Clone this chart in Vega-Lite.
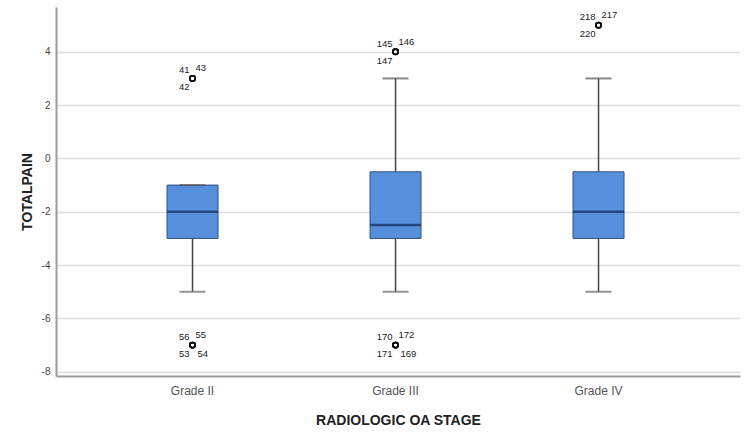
{
  "$schema": "https://vega.github.io/schema/vega-lite/v6.json",
  "width": 684,
  "height": 369,
  "autosize": {"type": "none"},
  "padding": {"left": 56, "top": 7, "right": 10, "bottom": 69},
  "background": "white",
  "config": {
    "view": {"stroke": null},
    "font": "Liberation Sans",
    "axis": {"labelFont": "Liberation Sans", "titleFont": "Liberation Sans"}
  },
  "datasets": {
    "boxes": [
      {"grade": "Grade II", "lower": -5, "q1": -3, "median": -2, "q3": -1, "upper": -1},
      {"grade": "Grade III", "lower": -5, "q1": -3, "median": -2.5, "q3": -0.5, "upper": 3},
      {"grade": "Grade IV", "lower": -5, "q1": -3, "median": -2, "q3": -0.5, "upper": 3}
    ],
    "outliers": [
      {"grade": "Grade II", "value": 3, "case": "41", "slot": "UL"},
      {"grade": "Grade II", "value": 3, "case": "43", "slot": "UR"},
      {"grade": "Grade II", "value": 3, "case": "42", "slot": "LL"},
      {"grade": "Grade II", "value": -7, "case": "56", "slot": "UL"},
      {"grade": "Grade II", "value": -7, "case": "55", "slot": "UR"},
      {"grade": "Grade II", "value": -7, "case": "53", "slot": "LL"},
      {"grade": "Grade II", "value": -7, "case": "54", "slot": "LR"},
      {"grade": "Grade III", "value": 4, "case": "145", "slot": "UL"},
      {"grade": "Grade III", "value": 4, "case": "146", "slot": "UR"},
      {"grade": "Grade III", "value": 4, "case": "147", "slot": "LL"},
      {"grade": "Grade III", "value": -7, "case": "170", "slot": "UL"},
      {"grade": "Grade III", "value": -7, "case": "172", "slot": "UR"},
      {"grade": "Grade III", "value": -7, "case": "171", "slot": "LL"},
      {"grade": "Grade III", "value": -7, "case": "169", "slot": "LR"},
      {"grade": "Grade IV", "value": 5, "case": "218", "slot": "UL"},
      {"grade": "Grade IV", "value": 5, "case": "217", "slot": "UR"},
      {"grade": "Grade IV", "value": 5, "case": "220", "slot": "LL"}
    ]
  },
  "encoding": {
    "x": {
      "field": "grade",
      "type": "nominal",
      "sort": ["Grade II", "Grade III", "Grade IV"],
      "scale": {"type": "band", "paddingInner": 0, "paddingOuter": 0.1847, "align": 0.467},
      "axis": {
        "title": "RADIOLOGIC OA STAGE",
        "labelAngle": 0,
        "labelFontSize": 12,
        "labelColor": "#555555",
        "labelPadding": 9,
        "ticks": false,
        "domainColor": "#9a9a9a",
        "domainWidth": 2,
        "titleFontSize": 14,
        "titleFontWeight": "bold",
        "titleColor": "#222222",
        "titlePadding": 17,
        "grid": false
      }
    }
  },
  "layer": [
    {
      "data": {"name": "boxes"},
      "mark": {"type": "rule", "color": "#444444", "strokeWidth": 1.5},
      "encoding": {
        "y": {
          "field": "lower",
          "type": "quantitative",
          "scale": {"domain": [-8.16, 5.68], "nice": false, "zero": false},
          "axis": {
            "title": "TOTALPAIN",
            "values": [-8, -6, -4, -2, 0, 2, 4],
            "labelExpr": "'' + datum.value",
            "labelFontSize": 10,
            "labelColor": "#444444",
            "labelPadding": 6,
            "ticks": false,
            "domainColor": "#9a9a9a",
            "domainWidth": 2,
            "gridColor": "#dddddd",
            "gridWidth": 1.5,
            "titleFontSize": 14,
            "titleFontWeight": "bold",
            "titleColor": "#222222",
            "titlePadding": 7
          }
        },
        "y2": {"field": "q1"}
      }
    },
    {
      "data": {"name": "boxes"},
      "mark": {"type": "rule", "color": "#444444", "strokeWidth": 1.5},
      "encoding": {
        "y": {"field": "q3", "type": "quantitative"},
        "y2": {"field": "upper"}
      }
    },
    {
      "data": {"name": "boxes"},
      "mark": {"type": "bar", "width": 51, "color": "#5690dc", "stroke": "#34527f", "strokeWidth": 1},
      "encoding": {
        "y": {"field": "q1", "type": "quantitative"},
        "y2": {"field": "q3"}
      }
    },
    {
      "data": {"name": "boxes"},
      "mark": {"type": "tick", "size": 51, "thickness": 2.5, "color": "#14285a", "orient": "horizontal"},
      "encoding": {
        "y": {"field": "median", "type": "quantitative"}
      }
    },
    {
      "data": {"name": "boxes"},
      "mark": {"type": "tick", "size": 26, "thickness": 2, "color": "#666666", "orient": "horizontal"},
      "encoding": {
        "y": {"field": "lower", "type": "quantitative"}
      }
    },
    {
      "data": {"name": "boxes"},
      "mark": {"type": "tick", "size": 26, "thickness": 2, "color": "#555555", "orient": "horizontal"},
      "encoding": {
        "y": {"field": "upper", "type": "quantitative"}
      }
    },
    {
      "data": {"name": "outliers"},
      "mark": {"type": "point", "shape": "circle", "size": 28, "filled": false, "stroke": "#111111", "strokeWidth": 1.6, "opacity": 1},
      "encoding": {
        "y": {"field": "value", "type": "quantitative"}
      }
    },
    {
      "data": {"name": "outliers"},
      "transform": [{"filter": "datum.slot === 'UL'"}],
      "mark": {"type": "text", "align": "right", "baseline": "middle", "dx": -3, "dy": -8, "fontSize": 9.5, "color": "#222222"},
      "encoding": {
        "y": {"field": "value", "type": "quantitative"},
        "text": {"field": "case"}
      }
    },
    {
      "data": {"name": "outliers"},
      "transform": [{"filter": "datum.slot === 'UR'"}],
      "mark": {"type": "text", "align": "left", "baseline": "middle", "dx": 3, "dy": -10, "fontSize": 9.5, "color": "#222222"},
      "encoding": {
        "y": {"field": "value", "type": "quantitative"},
        "text": {"field": "case"}
      }
    },
    {
      "data": {"name": "outliers"},
      "transform": [{"filter": "datum.slot === 'LL'"}],
      "mark": {"type": "text", "align": "right", "baseline": "middle", "dx": -3, "dy": 9, "fontSize": 9.5, "color": "#222222"},
      "encoding": {
        "y": {"field": "value", "type": "quantitative"},
        "text": {"field": "case"}
      }
    },
    {
      "data": {"name": "outliers"},
      "transform": [{"filter": "datum.slot === 'LR'"}],
      "mark": {"type": "text", "align": "left", "baseline": "middle", "dx": 5, "dy": 9, "fontSize": 9.5, "color": "#222222"},
      "encoding": {
        "y": {"field": "value", "type": "quantitative"},
        "text": {"field": "case"}
      }
    }
  ]
}
